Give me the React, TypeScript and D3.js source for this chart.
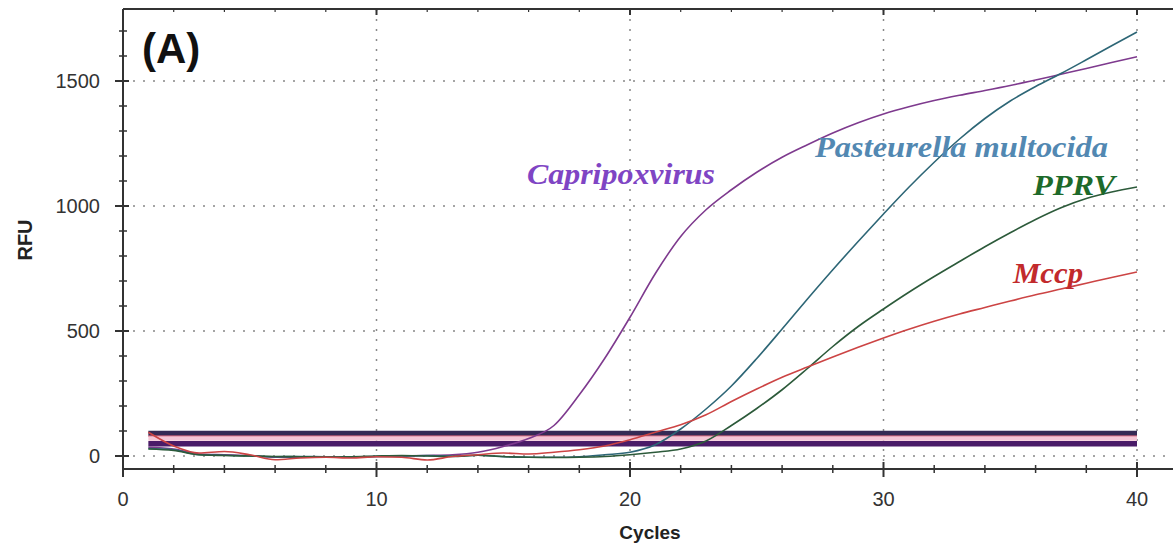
import React from "react";
import * as d3 from "d3";

const cycles = d3.range(1, 41);

const capripoxvirus = [35, 28, 8, 5, 2, -5, -5, -3, -5, -2, 0, 2, 5, 15, 38, 70, 122, 245, 390, 555, 730, 878, 985, 1065, 1135, 1195, 1245, 1292, 1333, 1368, 1397, 1422, 1443, 1462, 1482, 1504, 1527, 1550, 1574, 1597];
const pasteurella = [30, 25, 5, 3, 0, -3, -2, -3, -3, -2, 0, 2, 0, 3, -3, -5, -5, -3, 5, 15, 45, 108, 188, 280, 390, 508, 628, 745, 858, 968, 1075, 1175, 1268, 1350, 1420, 1478, 1530, 1585, 1641, 1696];
const pprv = [28, 22, 5, 2, 0, -2, -3, -4, -3, 0, 2, 0, -2, 3, -2, -5, -6, -5, -2, 5, 15, 28, 60, 122, 190, 265, 350, 438, 518, 588, 655, 718, 778, 837, 893, 946, 993, 1030, 1056, 1076];
const mccp = [95, 40, 12, 18, 5, -15, -8, -5, -8, -3, -5, -16, -2, 5, 12, 8, 15, 25, 40, 65, 95, 125, 165, 218, 268, 315, 356, 396, 435, 472, 507, 539, 568, 594, 620, 645, 668, 691, 714, 736];

const xMajorTicks = [0, 10, 20, 30, 40];
const xMinorTicks = d3.range(0, 42, 2);
const yMajorTicks = [0, 500, 1000, 1500];
const yMinorTicks = d3.range(0, 1800, 100);

const thresholds = [
  { value: 91, color: "#352a55", width: 5 },
  { value: 79, color: "#c8405a", width: 1.5 },
  { value: 70, color: "#f5c6d6", width: 4.5 },
  { value: 49, color: "#4a1c68", width: 5.5 },
];

const series = [
  { name: "Capripoxvirus", values: capripoxvirus, color: "#7e3a8e" },
  { name: "Pasteurella multocida", values: pasteurella, color: "#2d6676" },
  { name: "PPRV", values: pprv, color: "#2c5a3a" },
  { name: "Mccp", values: mccp, color: "#cc4444" },
];

const labels = [
  { text: "Capripoxvirus", x: 527, y: 184, len: 188, color: "#7f45c4" },
  { text: "Pasteurella multocida", x: 815, y: 157, len: 293, color: "#5288b2" },
  { text: "PPRV", x: 1033, y: 195, len: 82, color: "#1d6a2a" },
  { text: "Mccp", x: 1013, y: 283, len: 70, color: "#c22a2c" },
];

export default function App() {
  const W = 1173;
  const H = 548;
  const left = 123;
  const right = 1173;
  const top = 9;
  const bottom = 469;
  const x = d3.scaleLinear().domain([0, 40]).range([123, 1137]);
  const y = d3.scaleLinear().domain([0, 1500]).range([456, 81]);

  const line = d3
    .line<number>()
    .x((_, i) => x(cycles[i]))
    .y((v) => y(v))
    .curve(d3.curveMonotoneX);

  const font = "Arial, 'Liberation Sans', sans-serif";

  return (
    <div style={{ position: "absolute", left: 0, top: 0 }}>
      <svg width={W} height={H} style={{ display: "block", background: "#fff" }}>
        {xMajorTicks.filter((t) => t > 0).map((t) => (
          <line key={"gx" + t} x1={x(t)} x2={x(t)} y1={top} y2={bottom} stroke="#888" strokeWidth={1.5} strokeDasharray="2,8" />
        ))}
        {yMajorTicks.map((t) => (
          <line key={"gy" + t} x1={left} x2={right} y1={y(t)} y2={y(t)} stroke="#888" strokeWidth={1.5} strokeDasharray="2,8" />
        ))}

        {thresholds.map((th, i) => (
          <line key={"th" + i} x1={x(1)} x2={x(40)} y1={y(th.value)} y2={y(th.value)} stroke={th.color} strokeWidth={th.width} />
        ))}

        {series.map((s) => (
          <path key={s.name} d={line(s.values) || ""} fill="none" stroke={s.color} strokeWidth={1.6} />
        ))}

        <line x1={left} x2={left} y1={top} y2={bottom + 6} stroke="#333" strokeWidth={2} />
        <line x1={left} x2={right} y1={bottom} y2={bottom} stroke="#333" strokeWidth={2} />
        <line x1={left} x2={right} y1={top} y2={top} stroke="#333" strokeWidth={2} />

        {xMinorTicks.map((t) => {
          const major = t % 10 === 0;
          return (
            <g key={"xt" + t}>
              <line x1={x(t)} x2={x(t)} y1={bottom - (major ? 7 : 4)} y2={bottom + (major ? 8 : 4)} stroke="#333" strokeWidth={major ? 2 : 1.5} />
              <line x1={x(t)} x2={x(t)} y1={top} y2={top + (major ? 6 : 3)} stroke="#333" strokeWidth={major ? 2 : 1.2} />
            </g>
          );
        })}
        {yMinorTicks.map((t) => {
          const major = t % 500 === 0;
          return (
            <line key={"yt" + t} x1={left - (major ? 8 : 4)} x2={left + (major ? 6 : 4)} y1={y(t)} y2={y(t)} stroke="#333" strokeWidth={major ? 2 : 1.5} />
          );
        })}

        {xMajorTicks.map((t) => (
          <text key={"xl" + t} x={x(t)} y={506} textAnchor="middle" fontFamily={font} fontSize={20} fill="#333">
            {t}
          </text>
        ))}
        {yMajorTicks.map((t) => (
          <text key={"yl" + t} x={100} y={y(t) + 7} textAnchor="end" fontFamily={font} fontSize={20} fill="#333">
            {t}
          </text>
        ))}

        <text x={650} y={539} textAnchor="middle" fontFamily={font} fontSize={19} fontWeight="bold" fill="#222">
          Cycles
        </text>
        <text transform="translate(32,240) rotate(-90)" textAnchor="middle" fontFamily={font} fontSize={20} fontWeight="bold" fill="#222">
          RFU
        </text>
        <text x={142} y={63} fontFamily={font} fontSize={42} fontWeight="bold" fill="#111">
          (A)
        </text>

        {labels.map((l) => (
          <text
            key={l.text}
            x={l.x}
            y={l.y}
            textLength={l.len}
            lengthAdjust="spacingAndGlyphs"
            fontFamily="'Liberation Serif', 'Times New Roman', serif"
            fontStyle="italic"
            fontWeight="bold"
            fontSize={29}
            fill={l.color}
          >
            {l.text}
          </text>
        ))}
      </svg>
    </div>
  );
}
